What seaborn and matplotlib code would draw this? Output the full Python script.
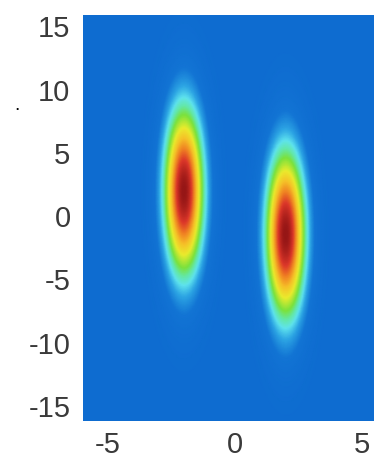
import numpy as np
import pandas as pd
import seaborn as sns
import matplotlib
matplotlib.use("Agg")
import matplotlib.pyplot as plt
from matplotlib.colors import LinearSegmentedColormap

# Blob parameters
blob_x = [-2.0, 2.0]
blob_y = [2.0, -1.4]
blob_sx = [0.54, 0.54]
blob_sy = [4.6, 4.6]
blob_amp = [1.0, 1.0]

x_ticks = [-5, 0, 5]
y_ticks = [-15, -10, -5, 0, 5, 10, 15]

sns.set_theme(style="white")
plt.rcParams['font.family'] = ['Liberation Sans', 'DejaVu Sans']

stops = [
    (0.00, (14, 108, 208)),
    (0.10, (18, 116, 212)),
    (0.19, (45, 165, 228)),
    (0.27, (95, 228, 238)),
    (0.34, (100, 232, 170)),
    (0.42, (125, 226, 62)),
    (0.55, (235, 236, 45)),
    (0.66, (246, 195, 40)),
    (0.77, (240, 130, 35)),
    (0.87, (220, 55, 42)),
    (1.00, (150, 22, 22)),
]
cmap = LinearSegmentedColormap.from_list(
    "jetlike", [(p, tuple(c / 255 for c in rgb)) for p, rgb in stops])

xs = np.linspace(-6.5, 6.5, 400)
ys = np.linspace(-17, 17, 600)
X, Y = np.meshgrid(xs, ys)
Z = np.zeros_like(X)
for x0, y0, sx, sy, a in zip(blob_x, blob_y, blob_sx, blob_sy, blob_amp):
    Z = np.maximum(Z, a * np.exp(-((X - x0) ** 2) / (2 * sx ** 2) - ((Y - y0) ** 2) / (2 * sy ** 2)))

fig = plt.figure(figsize=(3.74, 4.63), dpi=100)
ax = fig.add_axes([83 / 374, 42 / 463, 1 - 83 / 374, 406 / 463])
ax.pcolormesh(X, Y, Z, cmap=cmap, vmin=0, vmax=1, shading='gouraud', rasterized=True)
ax.set_xlim(-5.98, 5.47)
ax.set_ylim(-16.2, 15.9)
ax.set_xticks(x_ticks)
ax.set_yticks(y_ticks)
ax.set_xticklabels([str(t) for t in x_ticks])
ax.set_yticklabels([str(t) for t in y_ticks])
ax.tick_params(axis='both', length=0, labelsize=21, labelcolor='#3a3a3a')
ax.tick_params(axis='y', pad=9)
ax.tick_params(axis='x', pad=7)
for s in ax.spines.values():
    s.set_visible(False)
sns.despine(ax=ax, left=True, bottom=True)

fig.text(17 / 374, 1 - 106 / 463, '.', fontsize=14, color='black', ha='center', va='center')

fig.savefig("out.png", dpi=100)
